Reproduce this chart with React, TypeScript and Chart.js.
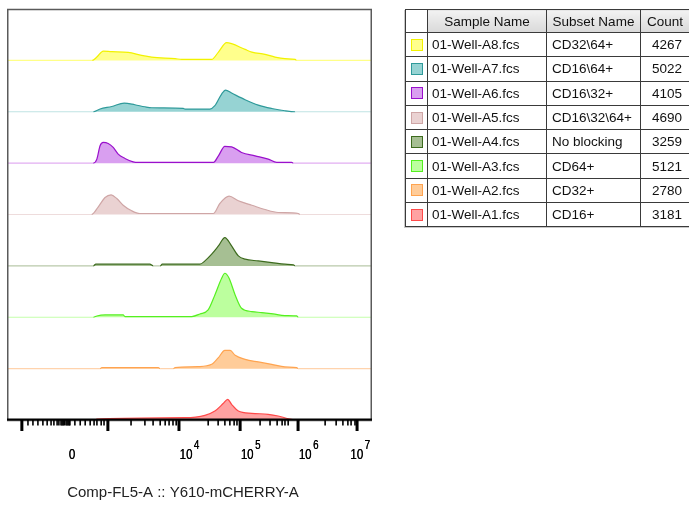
import React, { useEffect, useRef } from 'react';
import { Chart, registerables } from 'chart.js';

Chart.register(...registerables);

// ---------- data (top lane first) ----------
const SAMPLES = ['01-Well-A8.fcs', '01-Well-A7.fcs', '01-Well-A6.fcs', '01-Well-A5.fcs', '01-Well-A4.fcs', '01-Well-A3.fcs', '01-Well-A2.fcs', '01-Well-A1.fcs'];
const SUBSETS = ['CD32\\64+', 'CD16\\64+', 'CD16\\32+', 'CD16\\32\\64+', 'No blocking', 'CD64+', 'CD32+', 'CD16+'];
const COUNTS = [4267, 5022, 4105, 4690, 3259, 5121, 2780, 3181];

const LINE_COLORS = ['#f2f200', '#2f9a9a', '#9a10cc', '#cfa6a6', '#3d6b1e', '#55f020', '#ffa450', '#ff4a4a'];
const FILL_COLORS = ['#ffff8c', '#96d3d3', '#d99ff0', '#ead2d2', '#a6bf93', '#bcff9e', '#ffcc99', '#ffa2a2'];
const BASE_COLORS = ['#ffff88', '#bfe3e3', '#e2aef2', '#eedcdc', '#b9c9aa', '#c4ffab', '#ffd3ad', '#ffaaaa'];

// x in display channels (0-1024), y in % of lane height
const A8_X = [237, 250, 268, 292, 338, 376, 404, 470, 489, 573, 592, 615, 629, 667, 686, 723, 751, 779, 808, 812];
const A8_Y = [0, 6.4, 18.1, 16.9, 15.6, 9.7, 6.4, 3.3, 1.9, 1.9, 16.2, 34.5, 32.5, 21.4, 16.2, 11.7, 6.4, 3.3, 1.9, 0];
const A7_X = [240, 259, 292, 327, 357, 385, 404, 493, 498, 568, 582, 601, 612, 629, 667, 704, 742, 779, 808];
const A7_Y = [0, 5.3, 10.3, 16.9, 13.6, 9.7, 7.8, 6.4, 5.3, 5.3, 11.7, 34.5, 42.2, 36.4, 23.4, 13, 6.4, 1.9, 0];
const A6_X = [240, 250, 259, 268, 282, 296, 310, 329, 352, 367, 578, 592, 610, 629, 657, 695, 732, 756, 798, 803];
const A6_Y = [0, 7.8, 33.7, 40.3, 38.3, 30.6, 17.5, 9.1, 2.5, 1.4, 1.4, 14.2, 32.5, 31.7, 20.8, 14.2, 7.8, 1.4, 1.4, 0];
const A5_X = [235, 254, 273, 290, 306, 324, 348, 371, 578, 596, 622, 648, 686, 723, 760, 817, 821];
const A5_Y = [0, 15, 33.1, 38.3, 31.1, 18.1, 7.2, 1.9, 1.9, 21.4, 35.6, 26.7, 18.1, 9.7, 3.9, 1.9, 0];
const A4_X = [240, 247, 399, 409, 428, 434, 540, 554, 573, 592, 610, 629, 648, 667, 704, 742, 779, 803, 808];
const A4_Y = [0, 3.3, 3.3, 0, 0, 3.3, 3.3, 9.7, 22.8, 38.9, 55.1, 38.9, 19.5, 13, 9.7, 6.4, 3.3, 1.9, 0];
const A3_X = [240, 250, 273, 324, 329, 517, 540, 563, 582, 601, 610, 622, 639, 657, 686, 714, 746, 779, 812, 817];
const A3_Y = [0, 2.5, 4.5, 4.5, 1.4, 1.4, 6.4, 14.2, 43.4, 75.9, 85.6, 75.9, 43.4, 17.5, 11.1, 9.1, 6.4, 3.3, 2.5, 0];
const A2_X = [259, 264, 423, 428, 465, 470, 535, 573, 592, 610, 625, 639, 667, 704, 742, 779, 812, 817];
const A2_Y = [0, 1.9, 1.9, 0, 0, 1.9, 3.9, 8.4, 21.4, 35.6, 35.6, 25.9, 18.1, 13, 8.4, 3.3, 1.9, 0];
const A1_X = [245, 250, 498, 554, 582, 606, 618, 629, 648, 686, 732, 760, 789, 817];
const A1_Y = [0, 1.9, 4.5, 9.1, 17.5, 32.5, 40.3, 30.6, 17.5, 13, 11.1, 7.8, 2.5, 0];

const SERIES_X = [A8_X, A7_X, A6_X, A5_X, A4_X, A3_X, A2_X, A1_X];
const SERIES_Y = [A8_Y, A7_Y, A6_Y, A5_Y, A4_Y, A3_Y, A2_Y, A1_Y];

const X_MIN = 0;
const X_MAX = 1024;

const MAJOR_TICKS = [39, 281, 481, 653, 816, 982];
const MINOR_TICKS = [
  56, 70, 84, 98, 110, 121, 129, 138,
  143, 149, 152, 155, 158, 163, 166, 169, 172, 174,
  188, 203, 217, 231, 242, 250, 262, 270,
  346, 385, 408, 428, 442, 453, 464, 473,
  563, 591, 610, 624, 636, 644,
  709, 737, 757, 771, 779, 788,
  892, 923, 942, 956, 965, 976,
];
const LABEL_VALUES = [160, 481, 653, 816, 982];
const LABEL_BASES = ['0', '10', '10', '10', '10'];
const LABEL_EXPS = ['', '4', '5', '6', '7'];
const AXIS_TITLE = 'Comp-FL5-A :: Y610-mCHERRY-A';

const FONT = '"Liberation Sans", Arial, sans-serif';

const flowAxisPlugin = {
  id: 'flowAxis',
  afterDatasetsDraw(chart: any) {
    const { ctx, chartArea: a, scales } = chart;
    const x = scales.x;
    ctx.save();
    // frame
    ctx.strokeStyle = '#5a5a5a';
    ctx.lineWidth = 1.5;
    ctx.strokeRect(a.left - 0.25, a.top + 0.5, a.right - a.left - 0.5, a.bottom - a.top);
    // axis line
    ctx.fillStyle = '#000';
    ctx.fillRect(a.left - 1, a.bottom - 1.5, a.right - a.left + 1, 2);
    // minor ticks
    for (const v of MINOR_TICKS) {
      const p = x.getPixelForValue(v);
      ctx.fillRect(p - 0.75, a.bottom, 1.6, 5.5);
    }
    for (const v of MAJOR_TICKS) {
      const p = x.getPixelForValue(v);
      ctx.fillRect(p - 1.5, a.bottom, 3, 11);
    }
    // labels
    const sx = 0.82;
    ctx.fillStyle = '#000';
    ctx.textBaseline = 'alphabetic';
    for (let i = 0; i < LABEL_VALUES.length; i++) {
      const p = x.getPixelForValue(LABEL_VALUES[i]);
      ctx.font = '14px ' + FONT;
      const bw = ctx.measureText(LABEL_BASES[i]).width * sx;
      ctx.font = '12px ' + FONT;
      const ew = LABEL_EXPS[i] ? ctx.measureText(LABEL_EXPS[i]).width * sx + 1.5 : 0;
      let left = p + 7 - bw / 2;
      const limit = a.right - 2;
      if (left + bw + ew > limit) left = limit - bw - ew;
      ctx.save();
      ctx.translate(left, a.bottom + 38.5);
      ctx.scale(sx, 1);
      ctx.font = '14px ' + FONT;
      ctx.fillText(LABEL_BASES[i], 0, 0);
      ctx.fillText(LABEL_BASES[i], 0.3, 0);
      ctx.restore();
      if (LABEL_EXPS[i]) {
        ctx.save();
        ctx.translate(left + bw + 1.5, a.bottom + 28.5);
        ctx.scale(sx, 1);
        ctx.font = '12px ' + FONT;
        ctx.fillText(LABEL_EXPS[i], 0, 0);
        ctx.fillText(LABEL_EXPS[i], 0.3, 0);
        ctx.restore();
      }
    }
    // title
    ctx.font = '15px ' + FONT;
    ctx.fillStyle = '#222';
    ctx.textAlign = 'center';
    ctx.fillText(AXIS_TITLE, (a.left + a.right) / 2 - 7, a.bottom + 77);
    ctx.restore();
  },
};

function ChartView() {
  const ref = useRef<HTMLCanvasElement>(null);
  useEffect(() => {
    if (!ref.current) return;
    const n = SERIES_X.length;
    const datasets = SERIES_X.map((xs, i) => {
      const lane = n - 1 - i;
      const ys = SERIES_Y[i];
      const pts = [{ x: X_MIN, y: lane }, ...xs.map((xv, j) => ({ x: xv, y: lane + ys[j] / 100 })), { x: X_MAX, y: lane }];
      return {
        label: SAMPLES[i],
        data: pts,
        borderColor: LINE_COLORS[i],
        backgroundColor: FILL_COLORS[i],
        borderWidth: 1.2,
        pointRadius: 0,
        fill: { value: lane },
        cubicInterpolationMode: 'monotone' as const,
        segment: {
          borderColor: (c: any) =>
            c.p0.parsed.y === lane && c.p1.parsed.y === lane ? BASE_COLORS[i] : undefined,
        },
      };
    });
    const chart = new Chart(ref.current, {
      type: 'line',
      data: { datasets },
      options: {
        animation: false,
        responsive: false,
        devicePixelRatio: 1,
        layout: { padding: { left: 8, right: 317, top: 9, bottom: 86 } },
        plugins: { legend: { display: false }, tooltip: { enabled: false } },
        scales: {
          x: { type: 'linear', min: X_MIN, max: X_MAX, display: false },
          y: { type: 'linear', min: 0, max: SERIES_X.length, display: false },
        },
      },
      plugins: [flowAxisPlugin],
    });
    return () => chart.destroy();
  }, []);
  return <canvas ref={ref} width={689} height={506} style={{ position: 'absolute', left: 0, top: 0 }} />;
}

const cellBorder = '1px solid #3a3a3a';
const headerBg = 'linear-gradient(#f2f2f2, #d9d9d9)';

function Legend() {
  const th: React.CSSProperties = {
    border: cellBorder,
    background: headerBg,
    fontWeight: 'normal',
    textAlign: 'center',
    padding: 0,
    height: 22,
  };
  const td: React.CSSProperties = { border: cellBorder, padding: '0 4px', height: 23.3, whiteSpace: 'nowrap', background: '#fff' };
  return (
    <table
      style={{
        position: 'absolute',
        left: 405,
        top: 9,
        borderCollapse: 'collapse',
        tableLayout: 'fixed',
        width: 284,
        fontFamily: FONT,
        fontSize: 13.5,
        color: '#111',
        boxShadow: '-1px 1px 0 #c8c8c8',
      }}
    >
      <colgroup>
        <col style={{ width: 22 }} />
        <col style={{ width: 119 }} />
        <col style={{ width: 94 }} />
        <col style={{ width: 49 }} />
      </colgroup>
      <thead>
        <tr>
          <th style={{ ...th, background: '#fff' }}></th>
          <th style={th}>Sample Name</th>
          <th style={th}>Subset Name</th>
          <th style={th}>Count</th>
        </tr>
      </thead>
      <tbody>
        {SAMPLES.map((s, i) => (
          <tr key={s}>
            <td style={{ ...td, padding: 0, textAlign: 'center' }}>
              <div
                style={{
                  width: 10,
                  height: 10,
                  margin: '0 auto',
                  background: FILL_COLORS[i],
                  border: '1.5px solid ' + LINE_COLORS[i],
                }}
              />
            </td>
            <td style={td}>{s}</td>
            <td style={{ ...td, paddingLeft: 5 }}>{SUBSETS[i]}</td>
            <td style={{ ...td, textAlign: 'right', paddingRight: 7 }}>{COUNTS[i]}</td>
          </tr>
        ))}
      </tbody>
    </table>
  );
}

export default function App() {
  return (
    <div style={{ position: 'absolute', left: 0, top: 0, width: 689, height: 506, overflow: 'hidden', background: '#fff' }}>
      <ChartView />
      <Legend />
    </div>
  );
}
